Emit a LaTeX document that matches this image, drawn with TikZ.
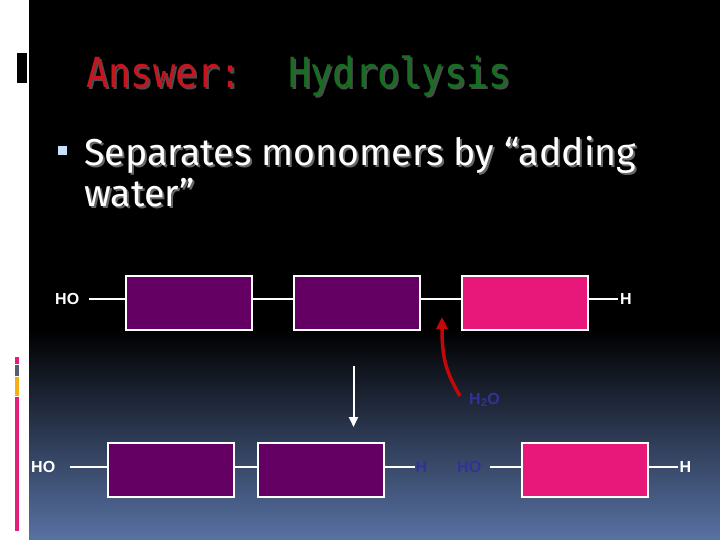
\documentclass[tikz,border=0pt]{standalone}
\usepackage{fontspec}
\setmainfont{Liberation Sans}
\newfontfamily\titlefont{DejaVu Sans Mono}
\newfontfamily\bodyfont{Fira Sans}
\usetikzlibrary{arrows.meta}
\definecolor{panelblue}{RGB}{88,114,164}
\definecolor{ansred}{RGB}{200,20,30}
\definecolor{hydgreen}{RGB}{20,112,32}
\definecolor{monopurple}{RGB}{100,0,100}
\definecolor{monopink}{RGB}{232,24,122}
\definecolor{waterblue}{RGB}{50,50,150}
\definecolor{arrowred}{RGB}{195,8,10}
\definecolor{bulletblue}{RGB}{200,225,250}
\definecolor{barpink}{RGB}{225,30,120}
\definecolor{bargray}{RGB}{85,95,110}
\definecolor{barorange}{RGB}{245,175,20}
\begin{document}
\begin{tikzpicture}[x=1pt,y=-1pt,
  mono/.style={draw=white,line width=1.6pt,minimum width=126pt,minimum height=54pt,inner sep=0pt},
  chem/.style={font=\fontsize{16}{16}\selectfont\bfseries,inner sep=0pt,anchor=west},
  bond/.style={draw=white,line width=2pt},
  ttl/.style={anchor=base west,inner sep=0pt,font=\titlefont\fontsize{37}{37}\selectfont},
  body/.style={anchor=base west,inner sep=0pt,font=\bodyfont\fontsize{37.5}{37.5}\selectfont}]
% background
\useasboundingbox (0,0) rectangle (720,540);
\fill[white] (0,0) rectangle (720,540);
\fill[black] (29,0) rectangle (720,330);
\shade[top color=black,bottom color=panelblue] (29,330) rectangle (720,540);
\fill[black] (17,53) rectangle (27,83);
\fill[barpink] (15,357) rectangle (19,364);
\fill[bargray] (15,365) rectangle (19,376);
\fill[barorange] (15,377) rectangle (19,396);
\fill[barpink] (15,397) rectangle (19,531);
% title
\node[ttl,text=black!70] at (88,90) {\scalebox{1}[1.12]{Answer:}};
\node (ta) [ttl,text=ansred] at (86,88) {\scalebox{1}[1.12]{Answer:}};
\node[ttl,text=black!70] at (290,90) {\scalebox{1}[1.12]{Hydrolysis}};
\node (th) [ttl,text=hydgreen] at (288,88) {\scalebox{1}[1.12]{Hydrolysis}};
% bullet
\fill[bulletblue] (58,146) rectangle (67,155);
\node[body,text=black!60] at (86,168) {Separates monomers by “adding};
\node (l1) [body,text=white] at (84,166) {Separates monomers by “adding};
\node[body,text=black!60] at (86,209) {water”};
\node (l2) [body,text=white] at (84,207) {water”};
% top row
\node (ho1) [chem,text=white] at (55,299) {HO};
\node (a1) [mono,fill=monopurple] at (189,303) {};
\node (a2) [mono,fill=monopurple] at (357,303) {};
\node (a3) [mono,fill=monopink] at (525,303) {};
\node (h1) [chem,text=white] at (620,299) {H};
\draw[bond] ([xshift=10pt]ho1.east) -- (ho1.east -| a1.west);
\draw[bond] (a1.east |- ho1.east) -- (a2.west |- ho1.east);
\draw[bond] (a2.east |- ho1.east) -- (a3.west |- ho1.east);
\draw[bond] (a3.east |- h1.west) -- ([xshift=-2pt]h1.west);
% water arrow
\coordinate (ws) at (460,396);
\coordinate (wt) at (442,317);
\draw[arrowred,line width=3.5pt,-{Triangle[length=12pt,width=11pt]}] (ws) .. controls (446,372) and (442,358) .. (wt);
\node (h2o) [chem,text=waterblue] at (469,400) {H\textsubscript{2}O};
% down arrow
\coordinate (ds) at (353.5,366);
\coordinate (de) at (353.5,427);
\draw[white,line width=2pt,-{Triangle[length=10pt,width=9pt]}] (ds) -- (de);
% bottom row
\node (ho2) [chem,text=white] at (31,467) {HO};
\node (b1) [mono,fill=monopurple] at (171,470) {};
\node (b2) [mono,fill=monopurple] at (321,470) {};
\node (h2) [chem,text=waterblue] at (415.5,467) {H};
\node (ho3) [chem,text=waterblue] at (457,467) {HO};
\node (b3) [mono,fill=monopink] at (585,470) {};
\node (h3) [chem,text=white] at (679.5,467) {H};
\draw[bond] ([xshift=15pt]ho2.east) -- (ho2.east -| b1.west);
\draw[bond] (b1.east |- ho2.east) -- (b2.west |- ho2.east);
\draw[bond] (b2.east |- h2.west) -- ([xshift=-1pt]h2.west);
\draw[bond] ([xshift=9pt]ho3.east) -- (ho3.east -| b3.west);
\draw[bond] (b3.east |- h3.west) -- ([xshift=-2pt]h3.west);
\end{tikzpicture}
\end{document}
